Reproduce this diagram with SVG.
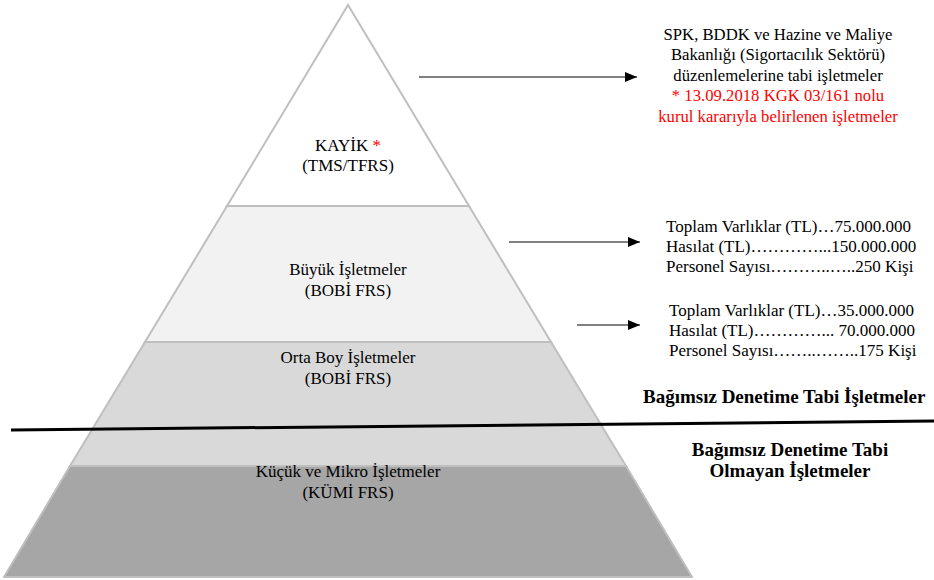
<svg xmlns="http://www.w3.org/2000/svg" width="934" height="580" viewBox="0 0 934 580" font-family="'Liberation Serif', 'DejaVu Serif', serif">
<defs>
<marker id="ah" markerWidth="12" markerHeight="10" refX="12" refY="5" orient="auto" markerUnits="userSpaceOnUse">
<path d="M0,0 L12,5 L0,10 Z" fill="#000"/>
</marker>
</defs>
<style>
text{font-family:'Liberation Serif','DejaVu Serif',serif;font-size:17px;fill:#000}
.c{text-anchor:middle}
.s{font-size:16.7px}
.b{font-weight:bold;font-size:19px}
.r{fill:#ff0000}
.tier{stroke:#bfbfbf;stroke-width:2}
.arr{stroke:#000;stroke-width:1;fill:none}
</style>
<rect width="934" height="580" fill="#fff"/>
<g id="tier-kayik">
<polygon class="tier" points="348,5 469,206 227,206" fill="#ffffff"/>
<text class="c" x="348" y="151">KAYİK <tspan class="r">*</tspan></text>
<text class="c" x="348" y="171">(TMS/TFRS)</text>
</g>
<g id="tier-buyuk">
<polygon class="tier" points="227,206 469,206 551,342 145,342" fill="#f2f2f2"/>
<text class="c" x="348" y="275">Büyük İşletmeler</text>
<text class="c" x="348" y="296">(BOBİ FRS)</text>
</g>
<g id="tier-orta">
<polygon class="tier" points="145,342 551,342 626,466 70,466" fill="#d9d9d9"/>
<text class="c" x="348" y="363">Orta Boy İşletmeler</text>
<text class="c" x="348" y="384">(BOBİ FRS)</text>
</g>
<g id="tier-kucuk">
<polygon class="tier" points="70,466 626,466 692,577 4,577" fill="#a6a6a6"/>
<text class="c" x="348" y="477">Küçük ve Mikro İşletmeler</text>
<text class="c" x="348" y="498">(KÜMİ FRS)</text>
</g>
<g id="connectors">
<line class="arr" x1="419" y1="77" x2="637" y2="77" marker-end="url(#ah)"/>
<line class="arr" x1="509" y1="242" x2="640" y2="242" marker-end="url(#ah)"/>
<line class="arr" x1="577" y1="325" x2="640" y2="325" marker-end="url(#ah)"/>
<line x1="11" y1="430" x2="934" y2="421" stroke="#000" stroke-width="3"/>
</g>
<g id="note-kayik">
<text class="c s" x="778" y="40">SPK, BDDK ve Hazine ve Maliye</text>
<text class="c s" x="778" y="60">Bakanlığı (Sigortacılık Sektörü)</text>
<text class="c s" x="778" y="81">düzenlemelerine tabi işletmeler</text>
<text class="c s r" x="778" y="101">* 13.09.2018 KGK 03/161 nolu</text>
<text class="c s r" x="778" y="122">kurul kararıyla belirlenen işletmeler</text>
</g>
<g id="note-buyuk">
<text x="666" y="232">Toplam Varlıklar (TL)…75.000.000</text>
<text x="666" y="252">Hasılat (TL)…………...150.000.000</text>
<text x="666" y="272">Personel Sayısı………..…..250 Kişi</text>
</g>
<g id="note-orta">
<text x="669" y="316">Toplam Varlıklar (TL)…35.000.000</text>
<text x="669" y="336">Hasılat (TL)…………...  70.000.000</text>
<text x="669" y="356">Personel Sayısı……..……..175 Kişi</text>
</g>
<g id="label-tabi">
<text class="b" x="643" y="403">Bağımsız Denetime Tabi İşletmeler</text>
</g>
<g id="label-tabi-olmayan">
<text class="b c" x="790" y="456">Bağımsız Denetime Tabi</text>
<text class="b c" x="790" y="477">Olmayan İşletmeler</text>
</g>
</svg>
